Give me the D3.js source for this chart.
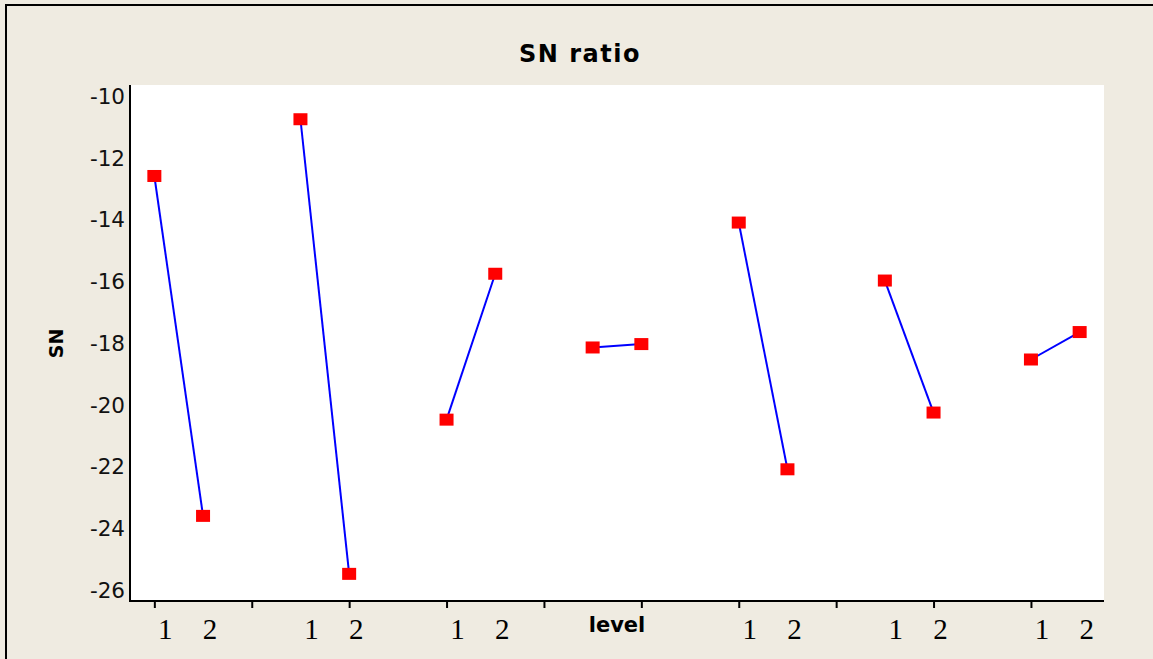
<!DOCTYPE html>
<html>
<head>
<meta charset="utf-8">
<script src="https://cdn.jsdelivr.net/npm/d3@7/dist/d3.min.js"></script>
<style>
  html, body { margin: 0; padding: 0; background: #efebe1; }
  svg { display: block; }
</style>
</head>
<body>
<svg id="chart" width="1153" height="659"></svg>
<script>
// Mean SN ratio per factor at level 1 and level 2
const levelNames = ["1", "2"];
const snLevel1 = [-12.57, -10.73, -20.47, -18.13, -14.08, -15.96, -18.52];
const snLevel2 = [-23.59, -25.47, -15.74, -18.02, -22.08, -20.24, -17.63];
const yTicks = [-26, -24, -22, -20, -18, -16, -14, -12, -10];
const titleText = "SN ratio";
const yTitle = "SN";
const xTitle = "level";

const W = 1153, H = 659;
const plot = { left: 130, right: 1104, top: 85, bottom: 601 };

const svg = d3.select("#chart");

// frame background and border (top and left edges)
svg.append("rect").attr("x", 0).attr("y", 0).attr("width", W).attr("height", H).attr("fill", "#efebe1");
svg.append("path")
  .attr("d", `M6,${H} L6,5 L${W},5`)
  .attr("fill", "none").attr("stroke", "#000").attr("stroke-width", 2);

// plotting region
svg.append("rect")
  .attr("x", plot.left).attr("y", plot.top)
  .attr("width", plot.right - plot.left).attr("height", plot.bottom - plot.top)
  .attr("fill", "#ffffff");

// x positions: factor g, level l sits at 3g + l
const x = d3.scaleLinear().domain([-0.5, 19.5]).range([plot.left, plot.right]);
const y = d3.scaleLinear().domain([-26.35, -9.62]).range([plot.bottom, plot.top]);

const factors = snLevel1.map((v, i) => ({
  index: i,
  points: [
    { pos: 3 * i, level: 0, value: v },
    { pos: 3 * i + 1, level: 1, value: snLevel2[i] }
  ]
}));

// y axis: labels only, no tick marks
const yAxis = d3.axisLeft(y).tickValues(yTicks).tickSize(0).tickPadding(5).tickFormat(d3.format("d"));
const gy = svg.append("g").attr("transform", `translate(${plot.left},0)`).call(yAxis);
gy.select(".domain").remove();
gy.selectAll("text")
  .attr("font-family", "'DejaVu Sans', Verdana, sans-serif")
  .attr("font-size", 21.5)
  .attr("fill", "#111")
  .text(d => d < 0 ? "-" + Math.abs(d) : d);

// x axis: ticks every two positions, no text from the axis itself
const xTicks = d3.range(0, 19, 2);
const xAxis = d3.axisBottom(x).tickValues(xTicks).tickSize(7).tickFormat("");
const gx = svg.append("g").attr("transform", `translate(0,${plot.bottom})`).call(xAxis);
gx.select(".domain").remove();
gx.selectAll(".tick line").attr("stroke", "#000").attr("stroke-width", 2);

// axis lines
svg.append("line")
  .attr("x1", plot.left).attr("x2", plot.left)
  .attr("y1", plot.top).attr("y2", plot.bottom + 1)
  .attr("stroke", "#000").attr("stroke-width", 2);
svg.append("line")
  .attr("x1", plot.left - 1).attr("x2", plot.right)
  .attr("y1", plot.bottom).attr("y2", plot.bottom)
  .attr("stroke", "#000").attr("stroke-width", 2);

// level labels under each factor; the middle factor carries the axis title
const middle = Math.floor(snLevel1.length / 2);
const labelNudge = [11, 7];
factors.forEach(f => {
  if (f.index === middle) {
    svg.append("text")
      .attr("x", x(3 * f.index + 0.5))
      .attr("y", 632)
      .attr("text-anchor", "middle")
      .attr("font-family", "'DejaVu Sans', Verdana, sans-serif")
      .attr("font-weight", "bold")
      .attr("font-size", 21)
      .attr("fill", "#000")
      .text(xTitle);
  } else {
    f.points.forEach(p => {
      svg.append("text")
        .attr("x", x(p.pos) + labelNudge[p.level])
        .attr("y", 639)
        .attr("text-anchor", "middle")
        .attr("font-family", "'Liberation Serif', 'Times New Roman', serif")
        .attr("font-size", 29)
        .attr("fill", "#000")
        .text(levelNames[p.level]);
    });
  }
});

// connecting lines per factor
const line = d3.line().x(d => x(d.pos)).y(d => y(d.value));
svg.append("g").selectAll("path")
  .data(factors)
  .join("path")
  .attr("d", d => line(d.points))
  .attr("fill", "none")
  .attr("stroke", "#0000ff")
  .attr("stroke-width", 2);

// square markers
const mw = 14, mh = 12;
svg.append("g").selectAll("rect")
  .data(factors.flatMap(f => f.points))
  .join("rect")
  .attr("x", d => x(d.pos) - mw / 2)
  .attr("y", d => y(d.value) - mh / 2)
  .attr("width", mw).attr("height", mh)
  .attr("fill", "#ff0000");

// titles
svg.append("text")
  .attr("x", 580).attr("y", 62)
  .attr("text-anchor", "middle")
  .attr("font-family", "'DejaVu Sans', Verdana, sans-serif")
  .attr("font-weight", "bold")
  .attr("font-size", 24)
  .attr("letter-spacing", 1.5)
  .attr("fill", "#000")
  .text(titleText);

svg.append("text")
  .attr("transform", `translate(63,${y(-18)}) rotate(-90)`)
  .attr("text-anchor", "middle")
  .attr("font-family", "'DejaVu Sans', Verdana, sans-serif")
  .attr("font-weight", "bold")
  .attr("font-size", 19)
  .attr("fill", "#000")
  .text(yTitle);
</script>
</body>
</html>
